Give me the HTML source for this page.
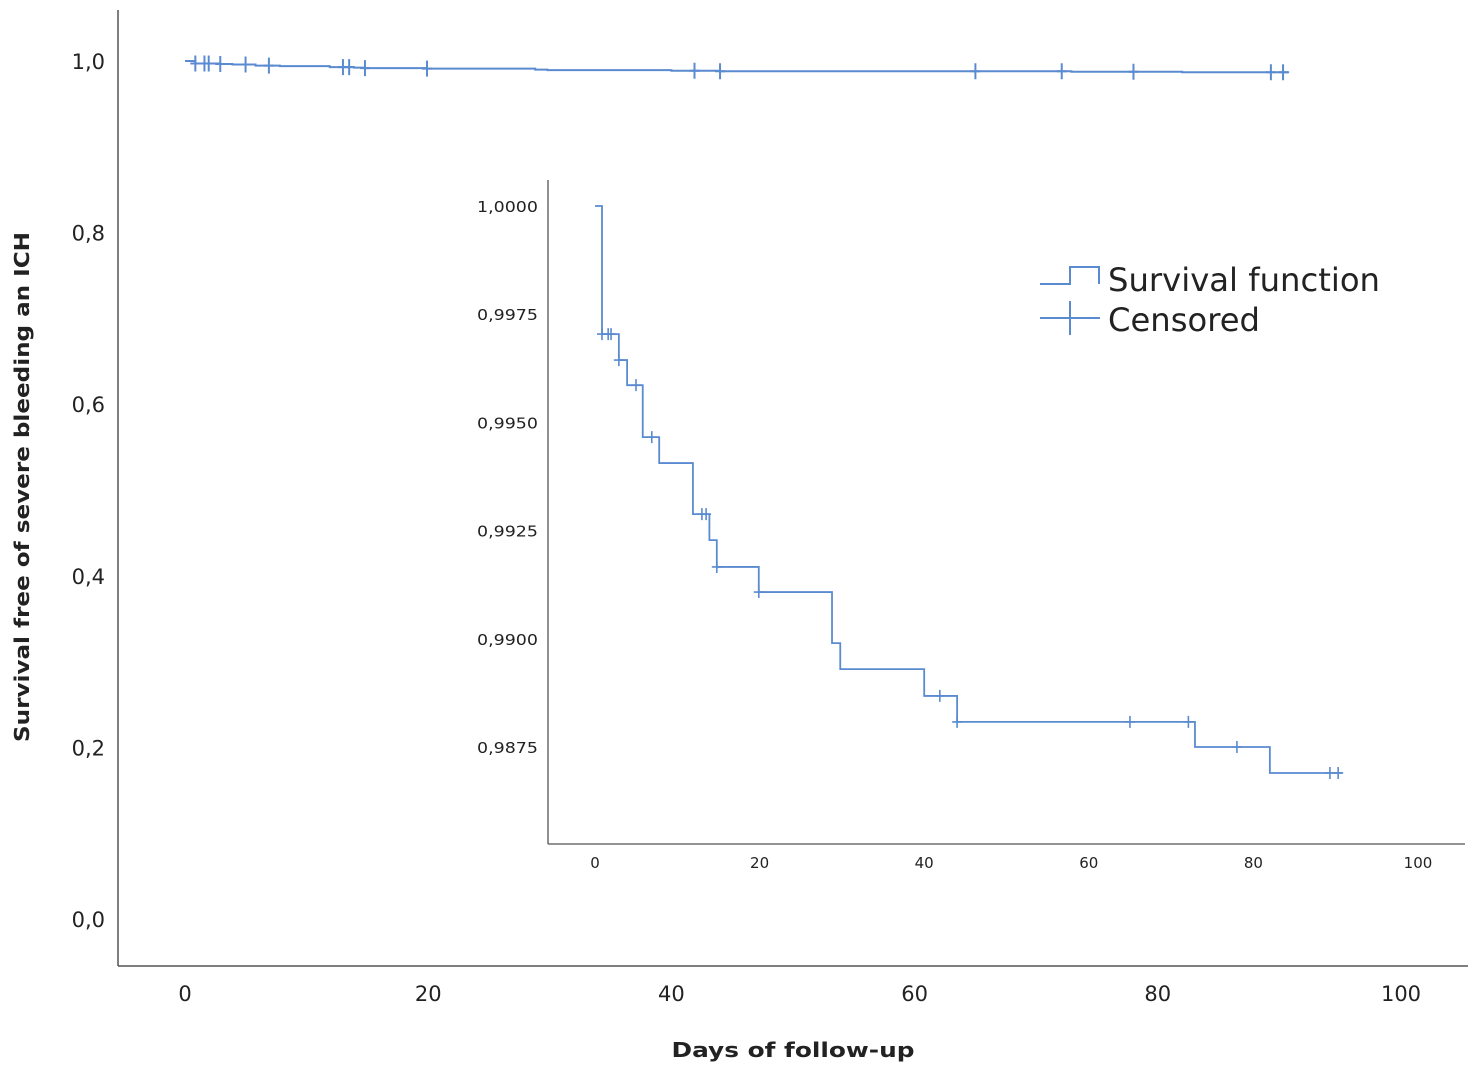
<!DOCTYPE html>
<html><head><meta charset="utf-8"><style>
html,body{margin:0;padding:0;background:#fff;}
svg{display:block;font-family:"DejaVu Sans","Liberation Sans",sans-serif;}
</style></head><body>
<svg id="chart" width="1471" height="1067" viewBox="0 0 1471 1067"></svg>
<script>
const stepTimes = [0.85, 2.9, 3.9, 5.8, 7.8, 11.9, 13.9, 14.8, 19.9, 28.8, 29.8, 40.0, 44.0, 72.9, 82.0];
const stepValues = [0.99704, 0.99644, 0.99586, 0.99466, 0.99406, 0.99288, 0.99228, 0.99166, 0.99108, 0.98990, 0.98930, 0.98868, 0.98808, 0.98750, 0.98690];
const endTime = 90.8;
const censorTimes = [0.85, 1.6, 1.95, 2.9, 4.98, 6.9, 12.99, 13.5, 14.8, 19.9, 41.9, 44.0, 65.0, 72.1, 78.0, 89.3, 90.3];
const mainYTicks = [0, 0.2, 0.4, 0.6, 0.8, 1.0];
const mainYTickLabels = ["0,0","0,2","0,4","0,6","0,8","1,0"];
const xTicks = [0, 20, 40, 60, 80, 100];
const insetYTicks = [0.9875, 0.99, 0.9925, 0.995, 0.9975, 1.0];
const insetYTickLabels = ["0,9875","0,9900","0,9925","0,9950","0,9975","1,0000"];

const NS = "http://www.w3.org/2000/svg";
const svg = document.getElementById('chart');
const COL = "#5a8bd0";
function mk(tag, attrs, parent){ const e=document.createElementNS(NS,tag); for(const k in attrs) e.setAttribute(k,attrs[k]); (parent||svg).appendChild(e); return e; }
function survAt(t){ let v=1; for(let i=0;i<stepTimes.length;i++){ if(stepTimes[i]<=t) v=stepValues[i]; } return v; }
function stepPath(xs, ys){
  let d = "M"+xs(0)+","+ys(1);
  for(let i=0;i<stepTimes.length;i++){
    d += " H"+xs(stepTimes[i])+" V"+ys(stepValues[i]);
  }
  d += " H"+xs(endTime);
  return d;
}

const mx = t => 185 + t*12.16;
const my = v => 919 - v*858;
const mAxes = mk('g',{});


const ma1 = mk('line',{x1:118,y1:10,x2:118,y2:966,stroke:"#555","stroke-width":1.5},mAxes);


const ma2 = mk('line',{x1:118,y1:966,x2:1468,y2:966,stroke:"#555","stroke-width":1.5},mAxes);


mainYTicks.forEach((v,i)=>{
  const t = mk('text',{x:105,y:my(v)+8,"text-anchor":"end","font-size":21,fill:"#222"});
  t.textContent = mainYTickLabels[i];
  
  
});
xTicks.forEach(v=>{
  const t = mk('text',{x:mx(v),y:1001,"text-anchor":"middle","font-size":21,fill:"#222"});
  t.textContent = String(v);
  
  
});
const xt = mk('text',{x:793,y:1057,"text-anchor":"middle","font-size":20,"font-weight":"bold",fill:"#222",textLength:243,lengthAdjust:"spacingAndGlyphs"});
xt.textContent = "Days of follow-up";


const yt = mk('text',{x:0,y:0,"text-anchor":"middle","font-size":20,"font-weight":"bold",fill:"#222",transform:"translate(29,487) rotate(-90)",textLength:510,lengthAdjust:"spacingAndGlyphs"});
yt.textContent = "Survival free of severe bleeding an ICH";



const mLine = mk('path',{d:stepPath(mx,my),fill:"none",stroke:COL,"stroke-width":2});


censorTimes.forEach(t=>{
  const c = mk('path',{d:"M"+mx(t)+","+(my(survAt(t))-8)+" V"+(my(survAt(t))+8)+" M"+(mx(t)-5)+","+my(survAt(t))+" H"+(mx(t)+5),stroke:COL,"stroke-width":2,fill:"none"});
  
  
});

const ix = t => 595 + t*8.23;
const iy = v => 206 + (1-v)*43280;
const ia1 = mk('line',{x1:548,y1:180,x2:548,y2:844,stroke:"#555","stroke-width":1.3});


const ia2 = mk('line',{x1:548,y1:844,x2:1465,y2:844,stroke:"#555","stroke-width":1.3});


insetYTicks.forEach((v,i)=>{
  const t = mk('text',{x:538,y:iy(v)+6,"text-anchor":"end","font-size":15,fill:"#222",textLength:61,lengthAdjust:"spacingAndGlyphs"});
  t.textContent = insetYTickLabels[i];
  
  
});
xTicks.forEach(v=>{
  const t = mk('text',{x:ix(v),y:868,"text-anchor":"middle","font-size":15,fill:"#222"});
  t.textContent = String(v);
  
  
});
const iLine = mk('path',{d:stepPath(ix,iy),fill:"none",stroke:COL,"stroke-width":1.8});


censorTimes.forEach(t=>{
  const y = iy(survAt(t)), x = ix(t);
  const c = mk('path',{d:"M"+x+","+(y-6)+" V"+(y+6)+" M"+(x-5)+","+y+" H"+(x+5),stroke:COL,"stroke-width":1.6,fill:"none"});
  
  
});

const lg = mk('g',{});


const l1 = mk('path',{d:"M1040,284 H1070 V267 H1099 V284",fill:"none",stroke:COL,"stroke-width":2},lg);


const lt1 = mk('text',{x:1108,y:291,"font-size":32,fill:"#222",textLength:272,lengthAdjust:"spacingAndGlyphs"},lg);
lt1.textContent = "Survival function";


const l2 = mk('path',{d:"M1040,318 H1100 M1070,301 V335",fill:"none",stroke:COL,"stroke-width":2},lg);


const lt2 = mk('text',{x:1108,y:331,"font-size":32,fill:"#222",textLength:152,lengthAdjust:"spacingAndGlyphs"},lg);
lt2.textContent = "Censored";


</script>
</body></html>
